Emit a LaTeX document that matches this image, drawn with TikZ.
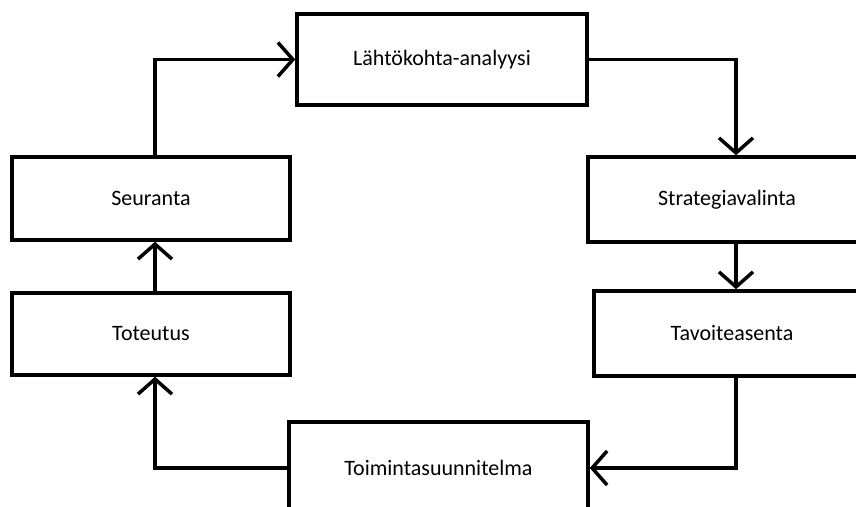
\documentclass[tikz,border=0pt]{standalone}
\usepackage{fontspec}
\setmainfont{Carlito}
\usetikzlibrary{arrows.meta,positioning}

\begin{document}
\begin{tikzpicture}[x=1pt,y=-1pt,
  vaihe/.style={draw, line width=3.5pt, rectangle, font=\fontsize{22}{26}\selectfont},
  nuoli/.style={line width=3.5pt, -{Straight Barb[length=15pt,width=34pt]}}]
\clip (0,0) rectangle (856,506);
\node[vaihe, minimum width=290, minimum height=91] (L) at (442,59.5) {Lähtökohta-analyysi};
\node[vaihe, minimum width=278, minimum height=85] (S1) at (727,199.5) {Strategiavalinta};
\node[vaihe, minimum width=276, minimum height=85] (S2) at (732,333.5) {Tavoiteasenta};
\node[vaihe, minimum width=299, minimum height=92] (S3) at (438.5,468) {Toimintasuunnitelma};
\node[vaihe, minimum width=278, minimum height=82] (S4) at (151,334) {Toteutus};
\node[vaihe, minimum width=278, minimum height=83] (S5) at (151,198.5) {Seuranta};
\coordinate (oik) at (736,0);
\coordinate (vas) at (155,0);
\draw[nuoli] (L.east) -| (S1.north -| oik);
\draw[nuoli] (S1.south -| oik) -- (S2.north -| oik);
\draw[nuoli] (S2.south -| oik) |- (S3.east);
\draw[nuoli] (S3.west) -| (S4.south -| vas);
\draw[nuoli] (S4.north -| vas) -- (S5.south -| vas);
\draw[nuoli] (S5.north -| vas) |- (L.west);
\end{tikzpicture}
\end{document}
